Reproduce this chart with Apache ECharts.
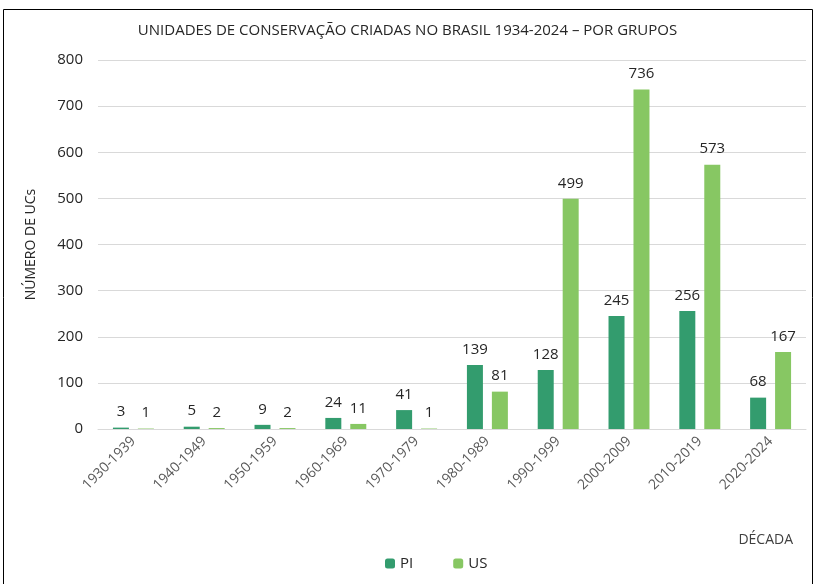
<!DOCTYPE html>
<html>
<head>
<meta charset="utf-8">
<script src="https://cdn.jsdelivr.net/npm/echarts@6/dist/echarts.min.js"></script>
<style>
  html, body { margin: 0; padding: 0; background: #fff; }
  #chart { width: 815px; height: 584px; }
</style>
</head>
<body>
<div id="chart"></div>
<script>
// décadas
const decadas = ['1930-1939', '1940-1949', '1950-1959', '1960-1969', '1970-1979',
  '1980-1989', '1990-1999', '2000-2009', '2010-2019', '2020-2024'];
// Proteção Integral
const piValores = [3, 5, 9, 24, 41, 139, 128, 245, 256, 68];
// Uso Sustentável
const usValores = [1, 2, 2, 11, 1, 81, 499, 736, 573, 167];

const fonte = 'Open Sans, Noto Sans, sans-serif';

const chart = echarts.init(document.getElementById('chart'));

const labelTopo = {
  show: true,
  position: 'top',
  distance: 8,
  color: '#262626',
  fontSize: 15,
  fontFamily: fonte,
};

chart.setOption({
  backgroundColor: '#fff',
  animation: false,
  title: [{
    text: 'UNIDADES DE CONSERVAÇÃO CRIADAS NO BRASIL 1934-2024 – POR GRUPOS',
    left: 'center',
    top: 18,
    textStyle: { fontSize: 15, fontWeight: 'normal', color: '#262626', fontFamily: fonte },
  }, {
    text: 'DÉCADA',
    right: 17,
    top: 528,
    textStyle: { fontSize: 14, fontWeight: 'normal', color: '#404040', fontFamily: fonte },
  }],
  graphic: [{
    type: 'rect',
    shape: { x: 3.5, y: 9.5, width: 809, height: 590 },
    style: { fill: 'none', stroke: '#000', lineWidth: 1 },
    silent: true,
  }],
  legend: {
    data: ['PI', 'US'],
    bottom: 8,
    left: 380,
    itemWidth: 10,
    itemHeight: 10,
    itemGap: 40,
    textStyle: { fontSize: 15, color: '#262626', fontFamily: fonte },
  },
  grid: {
    left: 98,
    right: 9,
    top: 60,
    bottom: 155,
  },
  xAxis: {
    type: 'category',
    data: decadas,
    axisLine: { lineStyle: { color: '#d9d9d9' } },
    axisTick: { show: false },
    axisLabel: {
      rotate: 45,
      interval: 0,
      color: '#595959',
      fontSize: 14,
      fontFamily: fonte,
      margin: 10,
    },
  },
  yAxis: {
    type: 'value',
    min: 0,
    max: 800,
    interval: 100,
    name: 'NÚMERO DE UCs',
    nameLocation: 'middle',
    nameRotate: 90,
    nameGap: 60,
    nameTextStyle: { fontSize: 14, color: '#262626', fontFamily: fonte },
    axisLine: { show: false },
    axisTick: { show: false },
    axisLabel: { color: '#262626', fontSize: 15, fontFamily: fonte, margin: 15 },
    splitLine: { lineStyle: { color: '#d9d9d9' } },
  },
  series: [{
    name: 'PI',
    type: 'bar',
    data: piValores,
    barWidth: 16,
    barGap: '56%',
    itemStyle: { color: '#339c6e' },
    label: labelTopo,
  }, {
    name: 'US',
    type: 'bar',
    data: usValores,
    barWidth: 16,
    itemStyle: { color: '#87c763' },
    label: labelTopo,
  }],
});
</script>
</body>
</html>
